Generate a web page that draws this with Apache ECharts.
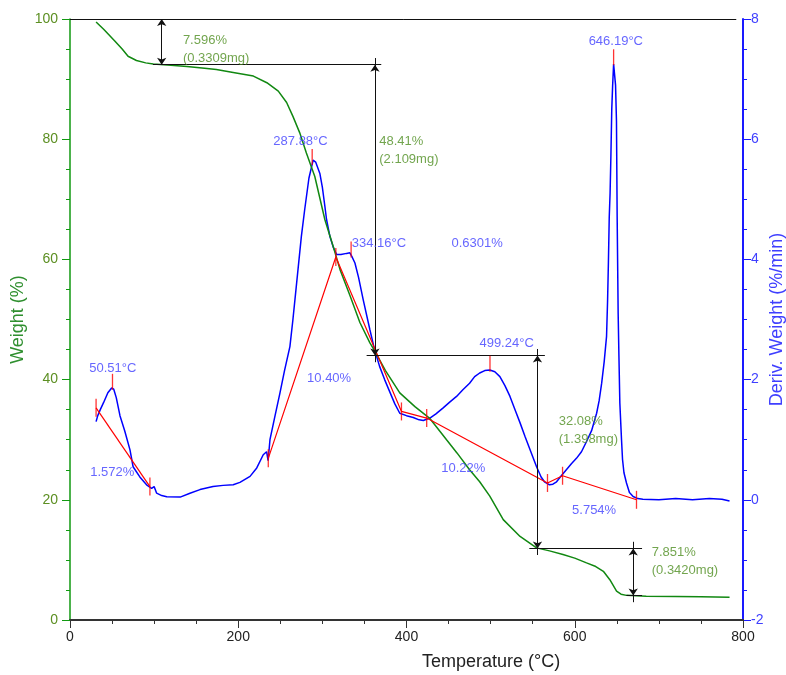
<!DOCTYPE html>
<html>
<head>
<meta charset="utf-8">
<script src="https://cdn.jsdelivr.net/npm/echarts/dist/echarts.min.js"></script>
<style>
  html, body { margin: 0; padding: 0; background: #fff; }
  #chart { width: 786px; height: 675px; }
</style>
</head>
<body>
<div id="chart"></div>
<script>
// TG curve: weight (%) vs temperature (°C)
const tgTemp = [31, 40, 53.5, 62, 69, 79, 90, 99, 120, 139, 160, 174, 194, 218, 234, 247.6, 257.5, 265, 273, 281,
  291, 303, 312.8, 321, 333, 344.6, 356.5, 362.5, 375, 392, 410, 428, 447.6, 460, 475, 487, 499, 515, 535, 554.6,
  570, 586, 600, 614, 625, 634, 641.7, 649.7, 655, 661.5, 685, 720, 750, 784];
const tgWeight = [99.5, 98.3, 96.3, 95, 93.8, 93.1, 92.7, 92.5, 92.3, 92.1, 91.8, 91.6, 91.1, 90.5, 89.4, 88, 86.1, 83.8, 81.1, 77.7,
  73.8, 66.6, 62.2, 58.3, 53.9, 49.5, 46.1, 44.7, 41.5, 37.8, 35.5, 33.5, 30.0, 27.8, 25, 23, 20.6, 16.7, 13.9, 12.0,
  11.5, 10.9, 10.3, 9.5, 8.9, 8.1, 6.7, 4.8, 4.3, 4.1, 3.96, 3.9, 3.85, 3.8];

// DTG curve: deriv. weight (%/min) vs temperature (°C)
const dtgTemp = [31, 33, 36, 40, 45, 49.5, 52, 55, 59.4, 65, 71.3, 75, 83, 91, 97, 100, 103, 109, 115, 131,
  142.6, 154.5, 170, 182, 194, 202, 214, 222, 229.7, 233.7, 235.5, 237.7, 243, 249.6, 255, 261.4, 265, 269, 275, 279,
  284, 289, 292, 297, 300, 303, 305, 309, 313, 317, 322, 328.8, 332.7, 335, 338.7, 343, 348.5, 356.5, 362, 368,
  374, 380, 386, 392, 400, 408, 415, 420, 427.8, 435, 443.6, 451, 459.5, 467, 475, 481, 487, 493, 499, 505,
  511, 517, 523, 529, 535, 541, 547, 554.6, 560, 564, 570, 574, 578.4, 584, 590, 596, 602, 608, 614, 620,
  626, 629, 632, 635, 637.8, 639, 640, 641, 642, 643, 644, 645, 646.2, 647.5, 648.5, 649.6, 650.4, 651.6, 652.5, 653.6,
  655.6, 656.8, 658.5, 661.5, 665, 669.4, 675, 681, 700, 720, 740, 760, 775, 784];
const dtgDeriv = [1.30, 1.40, 1.50, 1.62, 1.78, 1.86, 1.84, 1.70, 1.40, 1.15, 0.83, 0.55, 0.38, 0.25, 0.19, 0.22, 0.11, 0.07, 0.05, 0.045,
  0.11, 0.17, 0.22, 0.24, 0.25, 0.29, 0.39, 0.53, 0.75, 0.80, 0.65, 1.0, 1.35, 1.78, 2.15, 2.55, 3.0, 3.55, 4.38, 4.83,
  5.35, 5.65, 5.62, 5.43, 5.2, 4.88, 4.66, 4.38, 4.2, 4.08, 4.08, 4.1, 4.11, 4.05, 3.94, 3.7, 3.33, 2.83, 2.5, 2.22,
  2.0, 1.8, 1.6, 1.44, 1.40, 1.37, 1.33, 1.32, 1.36, 1.43, 1.53, 1.62, 1.72, 1.83, 1.94, 2.05, 2.11, 2.15, 2.16, 2.13,
  2.05, 1.9, 1.72, 1.5, 1.28, 1.05, 0.83, 0.55, 0.38, 0.3, 0.25, 0.26, 0.30, 0.4, 0.5, 0.6, 0.69, 0.8, 0.97, 1.15,
  1.44, 1.65, 1.94, 2.3, 2.72, 3.3, 3.94, 4.7, 5.1, 5.74, 6.5, 6.88, 7.25, 7.27, 6.9, 6.3, 4.72, 3.1, 2.4, 1.61,
  1.0, 0.67, 0.45, 0.28, 0.12, 0.055, 0.02, 0.01, 0.0, 0.02, 0.0, 0.02, 0.01, -0.02];

// DTG peak integration baselines (temperature, deriv)
const baseTemp1 = [31, 95];
const baseDeriv1 = [1.53, 0.22];
const baseTemp2 = [235.7, 316, 394, 424, 567.6, 585.5, 673.4];
const baseDeriv2 = [0.69, 4.04, 1.47, 1.36, 0.28, 0.40, 0.0];

// DTG peaks and areas
const peakTemps = [50.51, 287.88, 334.16, 499.24, 646.19];
const peakDeriv = [1.88, 5.62, 4.08, 2.18, 7.28];
const peakAreas = ['1.572%', '10.40%', '0.6301%', '10.22%', '5.754%'];

// TG step analysis
const stepLoss = [7.596, 48.41, 32.08, 7.851];
const stepMass = ['0.3309', '2.109', '1.398', '0.3420'];
const stepArrowTemp = [109, 362.5, 555.7, 669.5];
const levelSpans = [[0, 792], [98.6, 370], [352.6, 564.5], [546, 680], [661.5, 680]];
const startTemp = 31;

// label anchors (data units)
const peakLabelAt = [[50.9, 2.19], [274, 5.97], [367.3, 4.27], [519, 2.61], [648.8, 7.62]];
const areaLabelAt = [[50.3, 0.46], [308, 2.02], [484, 4.27], [467.5, 0.53], [623, -0.17]];
const stepLabelAt = [[133.6, 95.0], [367, 78.1], [580.4, 31.6], [690.9, 9.8]];

const FONT = '"Liberation Sans", Arial, sans-serif';
const zip = (a, b) => a.map((v, i) => [v, b[i]]);

// weight levels from step losses
const levels = [100];
stepLoss.forEach(l => levels.push(+(levels[levels.length - 1] - l).toFixed(3)));

const lineSegs = [];
levelSpans.forEach((s, i) => {
  lineSegs.push([{ coord: [s[0], levels[i]] }, { coord: [s[1], levels[i]] }]);
});
stepArrowTemp.forEach((t, i) => {
  lineSegs.push([{ coord: [t, levels[i] + 1.1] }, { coord: [t, levels[i + 1] - 1.1] }]);
  lineSegs.push([
    { coord: [t, levels[i]], symbol: 'arrow', symbolSize: 7 },
    { coord: [t, levels[i + 1]], symbol: 'arrow', symbolSize: 7 }
  ]);
});
lineSegs.push([{ coord: [startTemp, 101.2] }, { coord: [startTemp, 98.9] }]);

const chart = echarts.init(document.getElementById('chart'));
chart.setOption({
  animation: false,
  backgroundColor: '#fff',
  textStyle: { fontFamily: FONT },
  grid: { left: 70, right: 43, top: 19, bottom: 55, outerBoundsMode: 'none', containLabel: false },
  xAxis: {
    type: 'value', min: 0, max: 800, interval: 200,
    axisLine: { show: true, onZero: false, lineStyle: { color: '#333', width: 2 } },
    axisTick: { show: true, length: 8, lineStyle: { color: '#333' } },
    minorTick: { show: true, splitNumber: 4, length: 4, lineStyle: { color: '#333' } },
    splitLine: { show: false },
    axisLabel: { color: '#222', fontSize: 14, margin: 10 }
  },
  yAxis: [
    {
      type: 'value', min: 0, max: 100, interval: 20, position: 'left',
      name: 'Weight (%)', nameLocation: 'middle', nameGap: 43, nameMoveOverlap: false,
      nameTextStyle: { color: '#2f8f2f', fontSize: 18 },
      axisLine: { show: true, lineStyle: { color: '#119911', width: 1.5 } },
      axisTick: { show: true, length: 8, lineStyle: { color: '#119911' } },
      minorTick: { show: true, splitNumber: 4, length: 4, lineStyle: { color: '#119911' } },
      splitLine: { show: false },
      axisLabel: { color: '#5c8f22', fontSize: 14, margin: 12 }
    },
    {
      type: 'value', min: -2, max: 8, interval: 2, position: 'right',
      name: 'Deriv. Weight (%/min)', nameLocation: 'middle', nameGap: 25, nameMoveOverlap: false,
      nameTextStyle: { color: '#3f3fff', fontSize: 18 },
      axisLine: { show: true, lineStyle: { color: '#1a1aff', width: 2 } },
      axisTick: { show: true, length: 8, lineStyle: { color: '#1a1aff' } },
      minorTick: { show: true, splitNumber: 4, length: 4, lineStyle: { color: '#1a1aff' } },
      splitLine: { show: false },
      axisLabel: { color: '#3f3fff', fontSize: 14, margin: 8 }
    }
  ],
  graphic: [{
    type: 'text', left: 422, top: 653,
    style: { text: 'Temperature (°C)', fill: '#222', font: '18px ' + FONT }
  }],
  series: [
    {
      name: 'DTG', type: 'line', yAxisIndex: 1, showSymbol: false, z: 2,
      data: zip(dtgTemp, dtgDeriv),
      lineStyle: { color: '#0000ff', width: 1.5 }
    },
    {
      name: 'TG', type: 'line', yAxisIndex: 0, showSymbol: false, z: 3,
      data: zip(tgTemp, tgWeight),
      lineStyle: { color: '#118811', width: 1.5 },
      markLine: {
        silent: true, symbol: ['none', 'none'], label: { show: false },
        lineStyle: { color: '#111', width: 1, type: 'solid' },
        data: lineSegs
      }
    },
    {
      type: 'line', yAxisIndex: 1, showSymbol: false, z: 4,
      data: zip(baseTemp1, baseDeriv1),
      lineStyle: { color: '#ff0000', width: 1.2 }
    },
    {
      type: 'line', yAxisIndex: 1, showSymbol: false, z: 4,
      data: zip(baseTemp2, baseDeriv2),
      lineStyle: { color: '#ff0000', width: 1.2 }
    },
    {
      type: 'scatter', yAxisIndex: 1, z: 5, silent: true,
      symbol: 'rect', symbolSize: [1.3, 18],
      itemStyle: { color: '#ff0000' },
      data: zip(baseTemp1, baseDeriv1).concat(zip(baseTemp2, baseDeriv2))
    },
    {
      type: 'scatter', yAxisIndex: 1, z: 5, silent: true,
      symbol: 'rect', symbolSize: [1.3, 16], symbolOffset: [0, -5],
      itemStyle: { color: '#ff0000' },
      data: zip(peakTemps, peakDeriv)
    },
    {
      type: 'scatter', yAxisIndex: 1, z: 6, silent: true, symbolSize: 1,
      itemStyle: { color: 'transparent' },
      label: { show: true, position: 'inside', color: '#4040ff', fontSize: 13 },
      data: peakTemps.map((t, i) => ({ value: peakLabelAt[i], label: { formatter: t.toFixed(2) + '°C' } }))
        .concat(peakAreas.map((a, i) => ({ value: areaLabelAt[i], label: { formatter: a } })))
    },
    {
      type: 'scatter', yAxisIndex: 0, z: 6, silent: true, symbolSize: 1,
      itemStyle: { color: 'transparent' },
      label: { show: true, position: 'right', distance: 0, align: 'left', color: '#4f8f22', fontSize: 13, lineHeight: 18 },
      data: stepLoss.map((l, i) => ({ value: stepLabelAt[i], label: { formatter: l + '%\n(' + stepMass[i] + 'mg)' } }))
    }
  ]
});
</script>
</body>
</html>
